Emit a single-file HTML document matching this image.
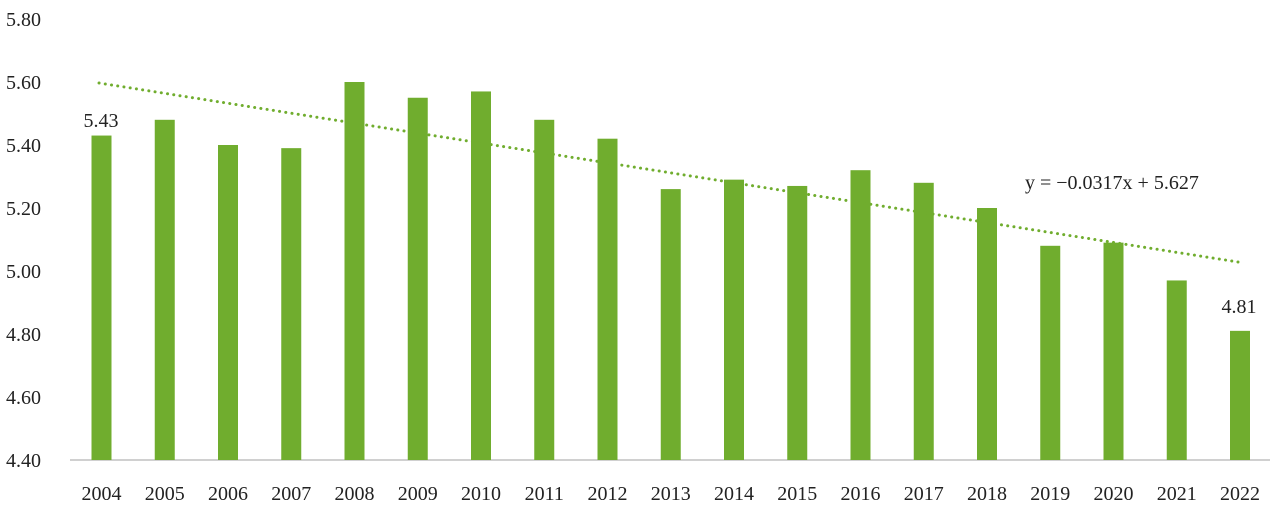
<!DOCTYPE html><html><head><style>body{margin:0;background:#fff}svg{display:block}text{font-family:"Liberation Serif","DejaVu Serif",serif;fill:#222;font-size:20px}</style></head><body>
<svg width="1280" height="507" viewBox="0 0 1280 507">
<line x1="70" y1="460" x2="1270" y2="460" stroke="#d0d0d0" stroke-width="2"/>
<g>
<text x="6" y="26">5.80</text><text x="6" y="89">5.60</text><text x="6" y="152">5.40</text><text x="6" y="215">5.20</text><text x="6" y="278">5.00</text><text x="6" y="341">4.80</text><text x="6" y="404">4.60</text><text x="6" y="467">4.40</text>
</g>
<g fill="#70ad2e">
<rect x="91.5" y="135.55" width="20" height="324.45"/>
<rect x="154.75" y="119.8" width="20" height="340.2"/>
<rect x="218" y="145" width="20" height="315"/>
<rect x="281.25" y="148.15" width="20" height="311.85"/>
<rect x="344.5" y="82" width="20" height="378"/>
<rect x="407.75" y="97.75" width="20" height="362.25"/>
<rect x="471" y="91.45" width="20" height="368.55"/>
<rect x="534.25" y="119.8" width="20" height="340.2"/>
<rect x="597.5" y="138.7" width="20" height="321.3"/>
<rect x="660.75" y="189.1" width="20" height="270.9"/>
<rect x="724" y="179.65" width="20" height="280.35"/>
<rect x="787.25" y="185.95" width="20" height="274.05"/>
<rect x="850.5" y="170.2" width="20" height="289.8"/>
<rect x="913.75" y="182.8" width="20" height="277.2"/>
<rect x="977" y="208" width="20" height="252"/>
<rect x="1040.25" y="245.8" width="20" height="214.2"/>
<rect x="1103.5" y="242.65" width="20" height="217.35"/>
<rect x="1166.75" y="280.45" width="20" height="179.55"/>
<rect x="1230" y="330.85" width="20" height="129.15"/>
</g>
<g text-anchor="middle">
<text x="101.5" y="500">2004</text><text x="164.75" y="500">2005</text><text x="228" y="500">2006</text><text x="291.25" y="500">2007</text><text x="354.5" y="500">2008</text><text x="417.75" y="500">2009</text><text x="481" y="500">2010</text><text x="544.25" y="500">2011</text><text x="607.5" y="500">2012</text><text x="670.75" y="500">2013</text><text x="734" y="500">2014</text><text x="797.25" y="500">2015</text><text x="860.5" y="500">2016</text><text x="923.75" y="500">2017</text><text x="987" y="500">2018</text><text x="1050.25" y="500">2019</text><text x="1113.5" y="500">2020</text><text x="1176.75" y="500">2021</text><text x="1240" y="500">2022</text>
</g>
<line x1="99" y1="83" x2="1238" y2="262" stroke="#70ad2e" stroke-width="3" stroke-dasharray="0.1 6.2" stroke-linecap="round"/>
<text x="101" y="127" text-anchor="middle">5.43</text>
<text x="1239" y="313" text-anchor="middle">4.81</text>
<text x="1025" y="189">y = −0.0317x + 5.627</text>
</svg></body></html>
